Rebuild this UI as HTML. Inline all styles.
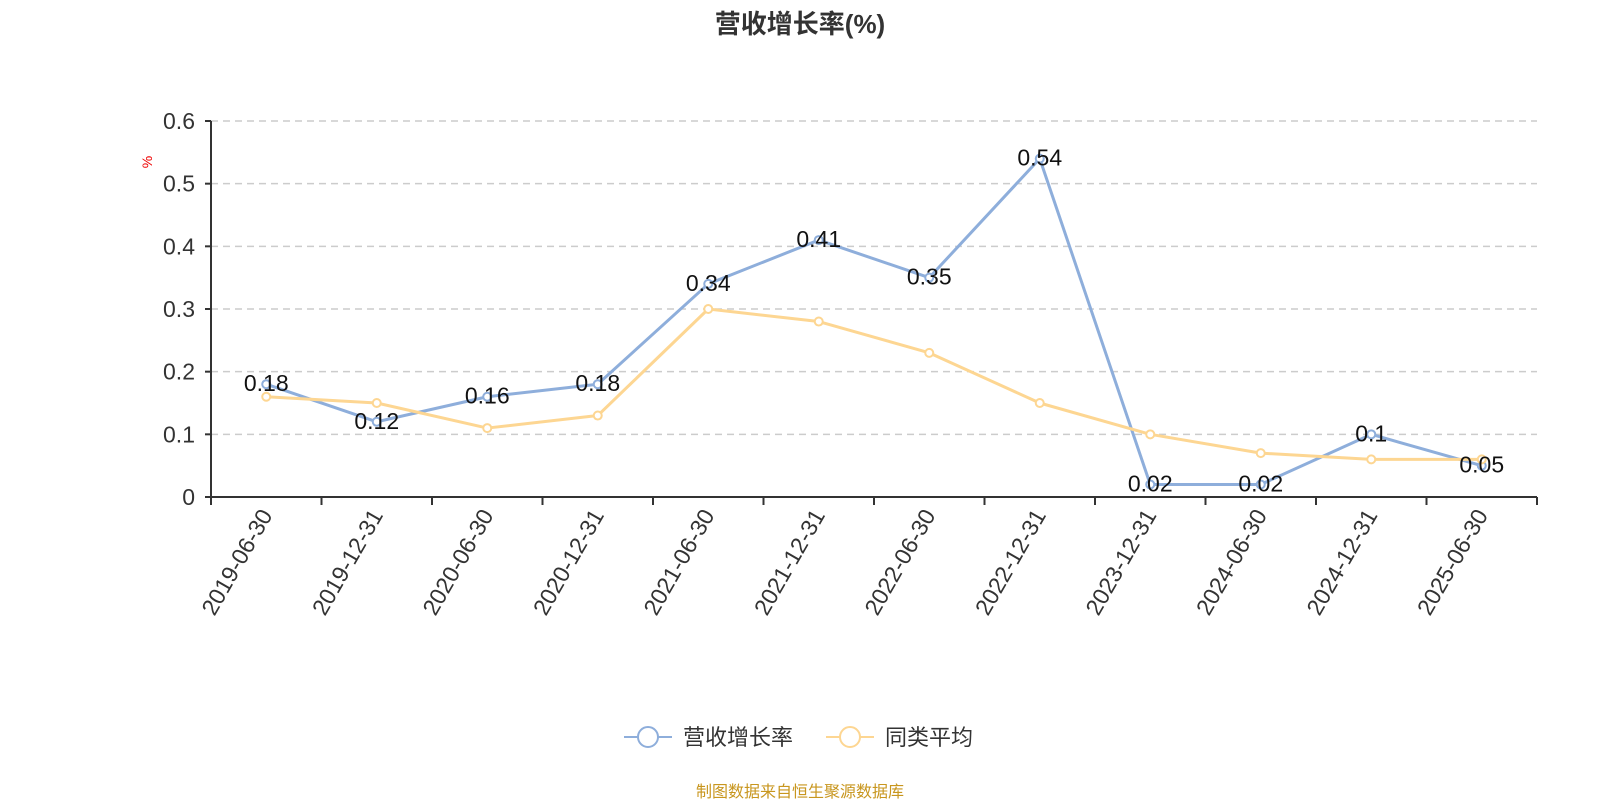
<!DOCTYPE html>
<html><head><meta charset="utf-8"><style>
html,body{margin:0;padding:0;background:#fff;}
svg{display:block;font-family:"Liberation Sans","Noto Sans CJK SC",sans-serif;}
</style></head><body>
<svg id="chart" width="1600" height="800">
<text x="800" y="33" text-anchor="middle" font-size="26" font-weight="bold" fill="#333">营收增长率(%)</text>
<text transform="translate(152,162) rotate(-90)" text-anchor="middle" font-size="14" fill="#e00">%</text>
<g id="grid"></g><g id="axes"></g><g id="series"></g>
<g>
<g>
<line x1="624" y1="737" x2="672" y2="737" stroke="#8eaedb" stroke-width="2"/>
<circle cx="648" cy="737" r="10" fill="#fff" stroke="#8eaedb" stroke-width="2"/>
<text x="683" y="745" font-size="22" fill="#333">营收增长率</text></g>
<g>
<line x1="826" y1="737" x2="874" y2="737" stroke="#fdd692" stroke-width="2"/>
<circle cx="850" cy="737" r="10" fill="#fff" stroke="#fdd692" stroke-width="2"/>
<text x="885" y="745" font-size="22" fill="#333">同类平均</text></g>
</g>
<text x="800" y="797" text-anchor="middle" font-size="16" fill="#c8961e">制图数据来自恒生聚源数据库</text>
</svg>
<script>
const categories=["2019-06-30","2019-12-31","2020-06-30","2020-12-31","2021-06-30","2021-12-31","2022-06-30","2022-12-31","2023-12-31","2024-06-30","2024-12-31","2025-06-30"];
const revenueGrowth=[0.18,0.12,0.16,0.18,0.34,0.41,0.35,0.54,0.02,0.02,0.1,0.05];
const peerAverage=[0.16,0.15,0.11,0.13,0.30,0.28,0.23,0.15,0.10,0.07,0.06,0.06];
const yTicks=[0,0.1,0.2,0.3,0.4,0.5,0.6];
const revenueLabels=["0.18","0.12","0.16","0.18","0.34","0.41","0.35","0.54","0.02","0.02","0.1","0.05"];
const NS="http://www.w3.org/2000/svg";
const X0=211,X1=1537,Y0=497,Y1=121,YMAX=0.6;
const band=(X1-X0)/categories.length;
function xs(i){return X0+band*(i+0.5);}
function ys(v){return Y0-(v/YMAX)*(Y0-Y1);}
function mk(tag,attrs,parent){const e=document.createElementNS(NS,tag);for(const k in attrs)e.setAttribute(k,attrs[k]);parent.appendChild(e);return e;}
const grid=document.getElementById('grid'),axes=document.getElementById('axes'),series=document.getElementById('series');
yTicks.forEach(t=>{
  const y=ys(t);
  if(t>0){const g=mk('line',{x1:X0,x2:X1,y1:y,y2:y,stroke:'#ccc','stroke-width':1.5,'stroke-dasharray':'7,5'},grid);
  
  }
  const tk=mk('line',{x1:X0-6,x2:X0,y1:y,y2:y,stroke:'#333','stroke-width':2},axes);
  
  
  const tx=mk('text',{x:X0-16,y:y+8,'text-anchor':'end','font-size':23,fill:'#333'},axes);
  tx.textContent=String(t);
  
  
});
const ya=mk('line',{x1:X0,x2:X0,y1:Y1,y2:Y0,stroke:'#333','stroke-width':2},axes);


const xa=mk('line',{x1:X0,x2:X1,y1:Y0,y2:Y0,stroke:'#333','stroke-width':2},axes);


for(let i=0;i<=categories.length;i++){
  const x=X0+band*i;
  const t=mk('line',{x1:x,x2:x,y1:Y0,y2:Y0+8,stroke:'#333','stroke-width':2},axes);
  
  
}
categories.forEach((c,i)=>{
  const x=xs(i),y=Y0+14;
  const t=mk('text',{x:x,y:y,'text-anchor':'end','font-size':23,fill:'#333',transform:`rotate(-60 ${x} ${y}) translate(0 8)`},axes);
  t.textContent=c;
  
  
});
function drawSeries(vals,color,name){
  const pts=vals.map((v,i)=>xs(i)+','+ys(v)).join(' ');
  const pl=mk('polyline',{points:pts,fill:'none',stroke:color,'stroke-width':3,'stroke-linejoin':'round'},series);
  
  
  vals.forEach((v,i)=>{
    const c=mk('circle',{cx:xs(i),cy:ys(v),r:4,fill:'#fff',stroke:color,'stroke-width':2},series);
    
    
  });
}
drawSeries(revenueGrowth,'#8eaedb','revenue-growth');
drawSeries(peerAverage,'#fdd692','peer-average');
revenueGrowth.forEach((v,i)=>{
  const t=mk('text',{x:xs(i),y:ys(v)+7,'text-anchor':'middle','font-size':23,fill:'#111'},series);
  t.textContent=revenueLabels[i];
  
  
});
</script>
</body></html>
